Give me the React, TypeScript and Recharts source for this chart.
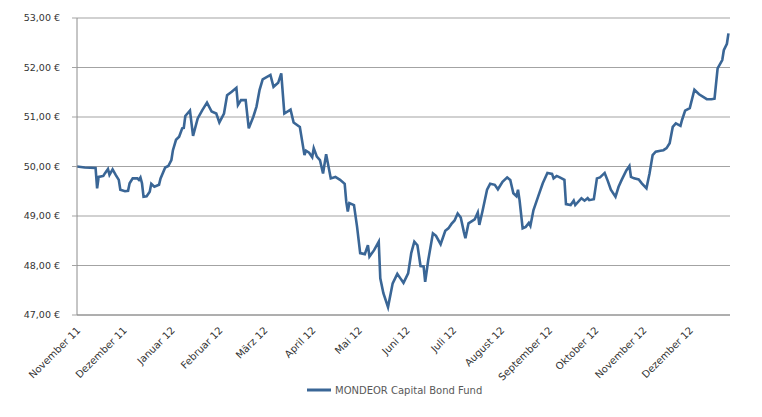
import { LineChart, Line, XAxis, YAxis, CartesianGrid, Legend } from 'recharts';

// day offsets from 1 Nov 2011 and fund price in EUR
const days = [
  0, 5, 12, 13, 14, 17, 18, 20, 21, 23, 25, 27, 28, 31, 33, 34, 36, 39, 40, 41,
  42, 43, 45, 47, 48, 50, 53, 54, 57, 59, 61, 62, 64, 66, 68, 69, 70, 73, 75, 78,
  81, 84, 87, 90, 92, 95, 97, 100, 103, 104, 106, 109, 111, 114, 116, 118, 120, 125, 127, 130,
  132, 134, 138, 140, 144, 147, 148, 150, 152, 153, 155, 157, 159, 161, 164, 167, 170, 173, 174, 175,
  176, 179, 181, 183, 186, 188, 189, 192, 195, 196, 198, 201, 204, 207, 209, 211, 214, 216, 218, 220,
  222, 224, 225, 227, 230, 232, 235, 238, 240, 242, 244, 246, 248, 250, 251, 253, 257, 259, 260, 262,
  265, 267, 270, 272, 275, 278, 280, 282, 284, 285, 286, 288, 290, 292, 293, 295, 298, 301, 304, 307,
  308, 310, 312, 315, 316, 319, 321, 322, 326, 328, 330, 331, 334, 336, 338, 341, 343, 345, 348, 350,
  352, 355, 357, 358, 360, 363, 365, 368, 370, 372, 374, 377, 379, 381, 383, 385, 387, 390, 391, 393,
  396, 399, 402, 407, 410, 412, 414, 417, 418, 420, 421,
];

const prices = [
  50.0, 49.98, 49.97, 49.56, 49.79, 49.81, 49.86, 49.95, 49.83, 49.94, 49.83, 49.73, 49.53, 49.5, 49.51, 49.66, 49.76, 49.76, 49.73, 49.78,
  49.66, 49.39, 49.4, 49.49, 49.65, 49.59, 49.63, 49.76, 49.98, 50.01, 50.13, 50.33, 50.54, 50.6, 50.77, 50.78, 51.02, 51.13, 50.62, 50.97,
  51.14, 51.29, 51.11, 51.07, 50.89, 51.07, 51.44, 51.51, 51.59, 51.24, 51.34, 51.34, 50.77, 51.01, 51.21, 51.55, 51.76, 51.85, 51.61, 51.69,
  51.88, 51.07, 51.15, 50.89, 50.8, 50.23, 50.32, 50.28, 50.19, 50.37, 50.2, 50.13, 49.86, 50.25, 49.76, 49.79, 49.73, 49.65, 49.29, 49.09,
  49.26, 49.22, 48.78, 48.25, 48.23, 48.41, 48.18, 48.31, 48.48, 47.74, 47.44, 47.16, 47.64, 47.83, 47.74, 47.65, 47.84, 48.25, 48.48, 48.41,
  47.99, 47.98, 47.67, 48.11, 48.65, 48.6, 48.43, 48.7, 48.75, 48.84, 48.91, 49.05, 48.97, 48.68, 48.55, 48.85, 48.93, 49.07, 48.82, 49.09,
  49.53, 49.65, 49.63, 49.54, 49.69, 49.78, 49.73, 49.46, 49.4, 49.53, 49.32, 48.75, 48.78, 48.86, 48.8, 49.12, 49.39, 49.66, 49.87, 49.85,
  49.76, 49.81, 49.78, 49.73, 49.24, 49.22, 49.31, 49.22, 49.36, 49.31, 49.36, 49.32, 49.34, 49.76, 49.78, 49.87, 49.71, 49.53, 49.39, 49.59,
  49.73, 49.92, 50.01, 49.79, 49.76, 49.74, 49.66, 49.56, 49.86, 50.23, 50.3, 50.32, 50.33, 50.37, 50.47, 50.8, 50.87, 50.82, 50.94, 51.13,
  51.18, 51.55, 51.46, 51.36, 51.36, 51.37, 51.98, 52.15, 52.35, 52.48, 52.69,
];

const monthStarts = [0, 30, 61, 92, 121, 152, 182, 213, 243, 274, 305, 335, 366, 396];
const monthLabels = [
  'November 11', 'Dezember 11', 'Januar 12', 'Februar 12', 'März 12', 'April 12', 'Mai 12',
  'Juni 12', 'Juli 12', 'August 12', 'September 12', 'Oktober 12', 'November 12', 'Dezember 12',
];
const priceTicks = [47, 48, 49, 50, 51, 52, 53];

const seriesName = 'MONDEOR Capital Bond Fund';
const lineColor = '#3a6696';
const font = '"DejaVu Sans", Verdana, sans-serif';

const data = days.map((d, i) => ({ day: d, price: prices[i] }));

const formatEuro = (v: number) => `${v.toFixed(2).replace('.', ',')} €`;

function MonthTick({ x, y, payload }: any) {
  const idx = monthStarts.indexOf(payload.value);
  const tx = x + 4;
  const ty = y + 16;
  return (
    <text
      x={tx}
      y={ty}
      textAnchor="end"
      transform={`rotate(-45 ${tx} ${ty})`}
      fontSize={10}
      fontFamily={font}
      fill="#333"
    >
      {monthLabels[idx]}
    </text>
  );
}

function FundLegend() {
  return (
    <div style={{ display: 'flex', alignItems: 'center', height: 14, fontFamily: font, fontSize: 10, color: '#595959' }}>
      <svg width={24} height={6} style={{ display: 'block' }}>
        <line x1={0} y1={3} x2={24} y2={3} stroke={lineColor} strokeWidth={3} />
      </svg>
      <span style={{ marginLeft: 4 }}>{seriesName}</span>
    </div>
  );
}

export default function App() {
  return (
    <div style={{ position: 'absolute', left: 0, top: 0, width: 762, height: 417, background: '#fff' }}>
      <LineChart width={762} height={417} data={data} margin={{ top: 18, right: 32, left: 0, bottom: 28 }}>
        <CartesianGrid vertical={false} stroke="#a3a3a3" />
        <XAxis
          dataKey="day"
          type="number"
          domain={[0, 422]}
          ticks={monthStarts}
          interval={0}
          height={60}
          tickSize={0}
          tickMargin={0}
          tickLine={false}
          axisLine={{ stroke: '#8c8c8c' }}
          tick={<MonthTick />}
        />
        <YAxis
          type="number"
          domain={[47, 53]}
          ticks={priceTicks}
          width={77}
          tickSize={5}
          tickMargin={12}
          tickFormatter={formatEuro}
          axisLine={{ stroke: '#8c8c8c' }}
          tickLine={{ stroke: '#a3a3a3' }}
          tick={{ fill: '#333', fontSize: 9.5, fontFamily: font }}
        />
        <Legend
          content={<FundLegend />}
          wrapperStyle={{ left: 307, top: 383, width: 220, height: 14 }}
        />
        <Line
          type="linear"
          dataKey="price"
          name={seriesName}
          stroke={lineColor}
          strokeWidth={2.6}
          dot={false}
          isAnimationActive={false}
        />
      </LineChart>
    </div>
  );
}
